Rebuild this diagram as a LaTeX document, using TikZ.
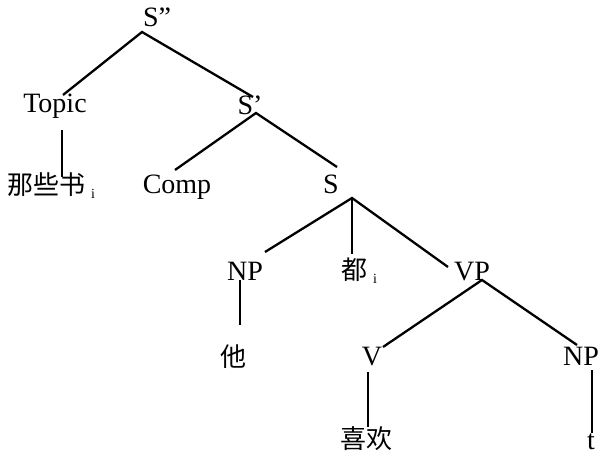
\documentclass[tikz,border=0pt]{standalone}
\usepackage{fontspec}
\setmainfont{Liberation Serif}
\newfontfamily\cjk{Noto Sans CJK SC}
\begin{document}
\begin{tikzpicture}[x=1pt,y=-1pt,
  lbl/.style={inner sep=0pt,font=\fontsize{28}{28}\selectfont},
  han/.style={inner sep=0pt,font=\fontsize{26}{26}\selectfont\cjk},
  edge/.style={line width=2.3pt}]
\useasboundingbox (0,0) rectangle (600,454);
\newcommand{\idx}{\hspace{6pt}\raisebox{-4pt}{\rmfamily\fontsize{14}{14}\selectfont i}}

% labels
\node[lbl,anchor=base] (Spp) at (157,27) {S''};
\node[lbl,anchor=base] (Topic) at (55,113) {Topic};
\node[lbl,anchor=base] (Sp) at (250,115) {S'};
\node[lbl,anchor=base] (Comp) at (177,194) {Comp};
\node[lbl,anchor=base] (S) at (331,194) {S};
\node[lbl,anchor=base] (NPa) at (245,281) {NP};
\node[lbl,anchor=base] (VP) at (472,281) {VP};
\node[lbl,anchor=base] (V) at (372,366) {V};
\node[lbl,anchor=base] (NPb) at (581,366) {NP};
\node[lbl,anchor=base] (t) at (591,449) {t};
\node[han,anchor=west] (nxs) at (7,186) {那些书\idx};
\node[han,anchor=west] (dou) at (341,271) {都\idx};
\node[han] (ta) at (233,357) {他};
\node[han] (xh) at (366,439) {喜欢};

% attachment points of the branches
\coordinate (Spp-b) at (142,32);
\coordinate (Topic-t) at (63,95);
\coordinate (Topic-b) at (62,130);
\coordinate (nxs-t) at (62,177);
\coordinate (Sp-t) at (253,97);
\coordinate (Sp-b) at (256,113);
\coordinate (Comp-t) at (175,170);
\coordinate (S-t) at (337,167);
\coordinate (S-b) at (352,198);
\coordinate (NPa-t) at (265,252);
\coordinate (NPa-b) at (240,280);
\coordinate (ta-t) at (240,325);
\coordinate (dou-t) at (352,254);
\coordinate (VP-t) at (448,267);
\coordinate (VP-b) at (482,280);
\coordinate (V-t) at (383,347);
\coordinate (V-b) at (368,372);
\coordinate (xh-t) at (368,427);
\coordinate (NPb-t) at (577,345);
\coordinate (NPb-b) at (592,370);
\coordinate (t-t) at (592,433);

% branches
\draw[edge] (Topic-t) -- (Spp-b) -- (Sp-t);
\draw[edge] (Topic-b) -- (nxs-t);
\draw[edge] (Comp-t) -- (Sp-b) -- (S-t);
\draw[edge] (NPa-t) -- (S-b) -- (VP-t);
\draw[edge] (S-b) -- (dou-t);
\draw[edge] (NPa-b) -- (ta-t);
\draw[edge] (V-t) -- (VP-b) -- (NPb-t);
\draw[edge] (V-b) -- (xh-t);
\draw[edge] (NPb-b) -- (t-t);
\end{tikzpicture}
\end{document}
